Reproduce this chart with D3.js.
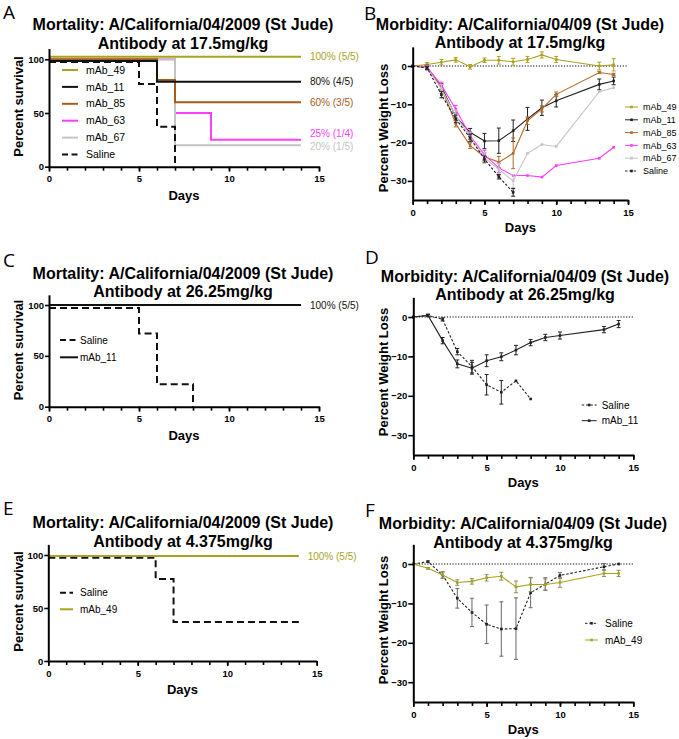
<!DOCTYPE html>
<html><head><meta charset="utf-8">
<script src="https://cdn.jsdelivr.net/npm/d3@7"></script>
<style>
body{margin:0;background:#fff}
svg{display:block}
text{font-family:"Liberation Sans",Arial,sans-serif}
</style>
</head><body><svg id="c" width="679" height="739"></svg>
<script>
// ---------------- DATA ----------------
const DAYS = [0,1,2,3,4,5,6,7,8,9,10,13,14];
const XTICKS = [0,5,10,15];

// Survival (Kaplan-Meier steps): [day, percent]
const survA_mAb_49 = [[0,102.3],[14,102.3]];
const survA_mAb_11 = [[0,98.5],[6,79],[14,79]];
const survA_mAb_85 = [[0,100],[6,80.8],[7,60],[14,60]];
const survA_mAb_63 = [[0,100],[7,50],[9,25],[14,25]];
const survA_mAb_67 = [[0,100],[7,20],[14,20]];
const survA_Saline = [[0,97.5],[5,77],[6,37.2],[7,0]];
const survA_endLabels = ["100% (5/5)","80% (4/5)","60% (3/5)","25% (1/4)","20% (1/5)"];

const survC_mAb_11 = [[0,100],[14,100]];
const survC_Saline = [[0,97],[5,72],[6,22],[8,0]];
const survC_endLabels = ["100% (5/5)"];

const survE_mAb_49 = [[0,99],[14,99]];
const survE_Saline = [[0,97.5],[6,77.4],[7,36.8],[14,36.8]];
const survE_endLabels = ["100% (5/5)"];

// Weight loss (% change), mean and error per day in DAYS
const wB_mAb_49     = [0, 0.4, 1.0, 1.6, -0.2, 1.5, 1.5, 1.1, 1.7, 2.9, 1.7, 0, 0.3];
const wB_mAb_49_err = [0, 0.5, 0.7, 0.6, 0.6, 0.6, 1.0, 0.9, 0.8, 0.8, 0.8, 1.0, 1.6];
const wB_mAb_11     = [0, -0.4, -5.4, -13.2, -17.3, -19.6, -19.5, -16.9, -13.8, -10.9, -9.1, -4.8, -3.9];
const wB_mAb_11_err = [0, 0.6, 0.8, 1.0, 1.0, 2.0, 3.3, 2.8, 3.0, 2.0, 1.6, 1.4, 1.0];
const wB_mAb_85     = [0, -0.3, -5.7, -15.1, -20.8, -23.7, -25.1, -22.8, -14.3, -11.2, -7.4, -1.7, -2.2];
const wB_mAb_85_err = [0, 0.5, 0.8, 0.8, 0.7, 1.0, 1.5, 4.0, 1.0, 0.8, 0.6, 0.3, 0.3];
const wB_mAb_63     = [0, -0.3, -5.0, -11.3, -18.2, -23.2, -26.6, -28.6, -28.6, -29.0, -26.0, -24.1, -21.2];
const wB_mAb_63_err = [0, 0.4, 0.8, 1.0, 1.0, 1.2, 1.2, 0, 0, 0, 0, 0, 0];
const wB_mAb_67     = [0, -0.5, -6.0, -13.0, -18.5, -24.0, -27.0, -30.0, -22.8, -20.5, -21.0, -6.7, -5.7];
const wB_mAb_67_err = [0, 0.4, 1.2, 1.5, 1.2, 1.5, 1.5, 1.7, 0, 0, 0, 0, 0];
const wB_Saline     = [0, -0.5, -7.5, -13.8, -18.8, -24.3, -28.9, -33.0];
const wB_Saline_err = [0, 0.4, 0.8, 1.0, 1.0, 0.8, 0.6, 1.0];

const wD_mAb_11     = [0, 0.4, -6.0, -11.9, -13.0, -11.1, -10.1, -8.4, -6.5, -5.2, -4.7, -3.2, -1.8];
const wD_mAb_11_err = [0, 0.3, 0.8, 1.0, 1.5, 1.5, 1.0, 1.2, 0.8, 0.8, 0.9, 0.8, 0.9];
const wD_Saline     = [0, 0.4, -0.6, -8.8, -12.6, -17.2, -19.1, -16.2, -20.8];
const wD_Saline_err = [0, 0.3, 0.4, 0.8, 1.6, 2.6, 3.0, 0, 0];

const wF_Saline     = [0, 0.6, -2.8, -8.7, -12.3, -15.3, -16.5, -16.4, -7.3, -5.1, -2.9, -0.7, 0];
const wF_Saline_err = [0, 0.2, 0.8, 2.5, 3.6, 4.9, 6.9, 7.8, 3.8, 1.6, 0.7, 0.8, 0];
const wF_mAb_49     = [0, -1.1, -2.8, -4.7, -4.4, -3.5, -3.1, -5.8, -5.2, -5.2, -4.7, -2.4, -2.4];
const wF_mAb_49_err = [0, 0.2, 0.8, 0.7, 0.7, 0.8, 1.0, 1.5, 1.8, 1.4, 1.2, 0.8, 0.8];

// ---------------- STYLE ----------------
const COL = {olive:"#a9a21f", black:"#111111", brown:"#a65c1c", magenta:"#ff3cff", gray:"#c4c4c4"};
const svg = d3.select("#c");

function titles(cx, b1, lines){
  lines.forEach((t,i)=> svg.append("text").attr("x",cx).attr("y",b1+i*18.5)
    .attr("text-anchor","middle").style("font-weight","bold").style("font-size","16px").style("fill","#000").text(t));
}
function letter(x,y,t){
  svg.append("text").attr("x",x).attr("y",y).style("font-family","'Open Sans',Lato,sans-serif")
    .style("font-size","19px").style("fill","#000").text(t);
}
function styleAxis(g, fs){
  g.select(".domain").attr("stroke","#000").attr("stroke-width",2);
  g.selectAll(".tick line").attr("stroke","#000").attr("stroke-width",1.6);
  g.selectAll(".tick text").style("font-family","'Liberation Sans',Arial,sans-serif")
    .style("font-weight","bold").style("font-size",fs+"px").style("fill","#000");
}
function xAxes(x, yAxis, labelY){
  const gMinor = svg.append("g").attr("transform",`translate(0,${yAxis})`)
    .call(d3.axisBottom(x).tickValues(d3.range(0,16)).tickFormat("").tickSize(4).tickSizeOuter(0));
  styleAxis(gMinor, 9.5);
  const gMajor = svg.append("g").attr("transform",`translate(0,${yAxis})`)
    .call(d3.axisBottom(x).tickValues(XTICKS).tickFormat(d3.format("d")).tickSize(5).tickSizeOuter(0).tickPadding(4));
  styleAxis(gMajor, 9.5);
  gMajor.select(".domain").remove();
  svg.append("text").attr("x",(x.range()[0]+x.range()[1])/2).attr("y",labelY)
    .attr("text-anchor","middle").style("font-weight","bold").style("font-size","13px").style("fill","#000").text("Days");
}
function yLabel(cx, cy, t){
  svg.append("text").attr("transform",`translate(${cx},${cy}) rotate(-90)`)
    .attr("text-anchor","middle").style("font-weight","bold").style("font-size","13px").style("fill","#000").text(t);
}

// ---------------- SURVIVAL PANELS ----------------
function survival(cfg){
  const x = d3.scaleLinear().domain([0,15]).range([cfg.x0,cfg.x1]);
  const y = d3.scaleLinear().domain([0,100]).range([cfg.y0,cfg.y100]);
  const line = d3.line().x(d=>x(d[0])).y(d=>y(d[1])).curve(d3.curveStepAfter);
  cfg.series.forEach(s=>{
    svg.append("path").attr("d",line(s.data)).attr("fill","none").attr("stroke",s.color)
      .attr("stroke-width",2).attr("stroke-dasharray",s.dash?"7,4":null);
  });
  const gy = svg.append("g").attr("transform",`translate(${cfg.x0},0)`)
    .call(d3.axisLeft(y.copy().domain([0,110]).range([cfg.y0, y(110)])).tickValues([0,50,100])
      .tickSize(4).tickSizeOuter(0).tickPadding(1));
  styleAxis(gy, 9.5);
  xAxes(x, cfg.y0, cfg.y0+33);
  yLabel(23, cfg.yLabelY, "Percent survival");
  cfg.endLabels.forEach((t,i)=>{
    const s = cfg.series[cfg.labelIdx[i]];
    const last = s.data[s.data.length-1];
    svg.append("text").attr("x",cfg.x1-9).attr("y",y(last[1])+(cfg.labelDy?cfg.labelDy[i]:0))
      .attr("dy","0.35em").style("font-size","10px").style("fill",s.color).text(t);
  });
  cfg.legend.forEach((s,i)=>{
    const ly = cfg.leg.y + i*cfg.leg.dy;
    svg.append("line").attr("x1",cfg.leg.x1).attr("x2",cfg.leg.x2).attr("y1",ly).attr("y2",ly)
      .attr("stroke",s.color).attr("stroke-width",2).attr("stroke-dasharray",s.dash?"6,3.5":null);
    svg.append("text").attr("x",cfg.leg.tx).attr("y",ly).attr("dy","0.35em")
      .style("font-size",cfg.leg.fs+"px").style("fill","#000").text(s.name);
  });
}

// ---------------- WEIGHT PANELS ----------------
function weight(cfg){
  const x = d3.scaleLinear().domain([0,15]).range([cfg.x0,cfg.x1]);
  const y = d3.scaleLinear().domain([0,-35]).range([cfg.yz, cfg.yz+35*cfg.k]);
  svg.append("line").attr("x1",x(0)).attr("x2",x(15)).attr("y1",y(0)).attr("y2",y(0))
    .attr("stroke","#000").attr("stroke-width",1).attr("stroke-dasharray","1.2,1.6");
  const line = d3.line().x(d=>x(d[0])).y(d=>y(d[1]));
  cfg.series.forEach(s=>{
    const pts = s.vals.map((v,i)=>[DAYS[i],v,s.errs[i]]);
    const g = svg.append("g");
    g.append("path").attr("d",line(pts)).attr("fill","none").attr("stroke",s.color)
      .attr("stroke-width",1.1).attr("stroke-dasharray",s.dash?"2.5,1.8":null);
    pts.forEach(p=>{
      if(p[2]>0){
        const ec = s.ecolor||s.color;
        g.append("line").attr("x1",x(p[0])).attr("x2",x(p[0])).attr("y1",y(p[1]-p[2])).attr("y2",y(p[1]+p[2]))
          .attr("stroke",ec).attr("stroke-width",1);
        [p[1]-p[2],p[1]+p[2]].forEach(v=>g.append("line").attr("x1",x(p[0])-2).attr("x2",x(p[0])+2)
          .attr("y1",y(v)).attr("y2",y(v)).attr("stroke",ec).attr("stroke-width",1));
      }
      g.append("rect").attr("x",x(p[0])-1.3).attr("y",y(p[1])-1.3).attr("width",2.6).attr("height",2.6)
        .attr("fill",s.color);
    });
  });
  const gy = svg.append("g").attr("transform",`translate(${cfg.x0},0)`)
    .call(d3.axisLeft(y.copy().domain([5,-35]).range([y(5),y(-35)])).tickValues([0,-10,-20,-30])
      .tickSize(5).tickSizeOuter(0).tickPadding(1));
  styleAxis(gy, 9.5);
  xAxes(x, y(-35), y(-35)+32);
  yLabel(388, cfg.yLabelY, "Percent Weight Loss");
  cfg.series.forEach((s,i)=>{
    const ly = cfg.leg.y + i*cfg.leg.dy;
    svg.append("line").attr("x1",cfg.leg.x1).attr("x2",cfg.leg.x2).attr("y1",ly).attr("y2",ly)
      .attr("stroke",s.color).attr("stroke-width",1).attr("stroke-dasharray",s.dash?"2.5,1.8":null);
    svg.append("rect").attr("x",(cfg.leg.x1+cfg.leg.x2)/2-1.3).attr("y",ly-1.3).attr("width",2.6).attr("height",2.6)
      .attr("fill",s.color);
    svg.append("text").attr("x",cfg.leg.tx).attr("y",ly).attr("dy","0.35em")
      .style("font-size",cfg.leg.fs+"px").style("fill","#000").text(s.name);
  });
}

// ---------------- PANEL A ----------------
letter(3,18.5,"A");
titles(183,30,["Mortality: A/California/04/2009 (St Jude)","Antibody at 17.5mg/kg"]);
const A_series = [
  {name:"mAb_63",data:survA_mAb_63,color:COL.magenta},
  {name:"mAb_67",data:survA_mAb_67,color:COL.gray},
  {name:"mAb_85",data:survA_mAb_85,color:COL.brown},
  {name:"mAb_11",data:survA_mAb_11,color:COL.black},
  {name:"mAb_49",data:survA_mAb_49,color:COL.olive},
  {name:"Saline",data:survA_Saline,color:COL.black,dash:true}
];
survival({x0:49,x1:319,y0:166.7,y100:59.3,series:A_series,yLabelY:106.5,
  endLabels:survA_endLabels,labelIdx:[4,3,2,0,1],labelDy:[0,0,0,-6,1.5],
  legend:[A_series[4],A_series[3],A_series[2],A_series[0],A_series[1],A_series[5]],
  leg:{x1:62,x2:78,tx:86,y:70,dy:16.9,fs:10.5}});

// ---------------- PANEL C ----------------
letter(3,266.5,"C");
titles(183,278.5,["Mortality: A/California/04/2009 (St Jude)","Antibody at 26.25mg/kg"]);
const C_series = [
  {name:"Saline",data:survC_Saline,color:COL.black,dash:true},
  {name:"mAb_11",data:survC_mAb_11,color:COL.black}
];
survival({x0:49,x1:319,y0:406.7,y100:305,series:C_series,yLabelY:350,
  endLabels:survC_endLabels,labelIdx:[1],
  legend:C_series, leg:{x1:60,x2:78,tx:80,y:340,dy:17.3,fs:10}});

// ---------------- PANEL E ----------------
letter(3,515,"E");
titles(183,528.3,["Mortality: A/California/04/2009 (St Jude)","Antibody at 4.375mg/kg"]);
const E_series = [
  {name:"Saline",data:survE_Saline,color:COL.black,dash:true},
  {name:"mAb_49",data:survE_mAb_49,color:COL.olive}
];
survival({x0:48.3,x1:316.7,y0:661,y100:555,series:E_series,yLabelY:601.5,
  endLabels:survE_endLabels,labelIdx:[1],
  legend:E_series, leg:{x1:60,x2:73,tx:80,y:592.7,dy:16.6,fs:10}});

// ---------------- PANEL B ----------------
letter(364,19.5,"B");
titles(520,29.5,["Morbidity: A/California/04/09 (St Jude)","Antibody at 17.5mg/kg"]);
weight({x0:412.7,x1:628,yz:66,k:3.83,yLabelY:128,
  series:[
    {name:"mAb_49",vals:wB_mAb_49,errs:wB_mAb_49_err,color:COL.olive},
    {name:"mAb_11",vals:wB_mAb_11,errs:wB_mAb_11_err,color:"#222"},
    {name:"mAb_85",vals:wB_mAb_85,errs:wB_mAb_85_err,color:"#b26a28"},
    {name:"mAb_63",vals:wB_mAb_63,errs:wB_mAb_63_err,color:COL.magenta},
    {name:"mAb_67",vals:wB_mAb_67,errs:wB_mAb_67_err,color:COL.gray},
    {name:"Saline",vals:wB_Saline,errs:wB_Saline_err,color:"#222",dash:true}
  ],
  leg:{x1:625,x2:638,tx:643,y:107,dy:12.8,fs:9}});

// ---------------- PANEL D ----------------
letter(365,264,"D");
titles(525,281.7,["Morbidity: A/California/04/09 (St Jude)","Antibody at 26.25mg/kg"]);
weight({x0:413.3,x1:633.3,yz:317,k:3.94,yLabelY:372,
  series:[
    {name:"Saline",vals:wD_Saline,errs:wD_Saline_err,color:"#222",dash:true},
    {name:"mAb_11",vals:wD_mAb_11,errs:wD_mAb_11_err,color:"#222"}
  ],
  leg:{x1:581.7,x2:596.7,tx:601.7,y:405,dy:15.7,fs:10}});

// ---------------- PANEL F ----------------
letter(365,516.7,"F");
titles(523,529.3,["Morbidity: A/California/04/09 (St Jude)","Antibody at 4.375mg/kg"]);
weight({x0:413.3,x1:633.3,yz:564,k:3.94,yLabelY:620,
  series:[
    {name:"Saline",vals:wF_Saline,errs:wF_Saline_err,color:"#222",ecolor:"#666",dash:true},
    {name:"mAb_49",vals:wF_mAb_49,errs:wF_mAb_49_err,color:COL.olive,ecolor:"#8a8a5a"}
  ],
  leg:{x1:585,x2:598,tx:605,y:623.3,dy:16.7,fs:10}});
</script>
</body></html>
